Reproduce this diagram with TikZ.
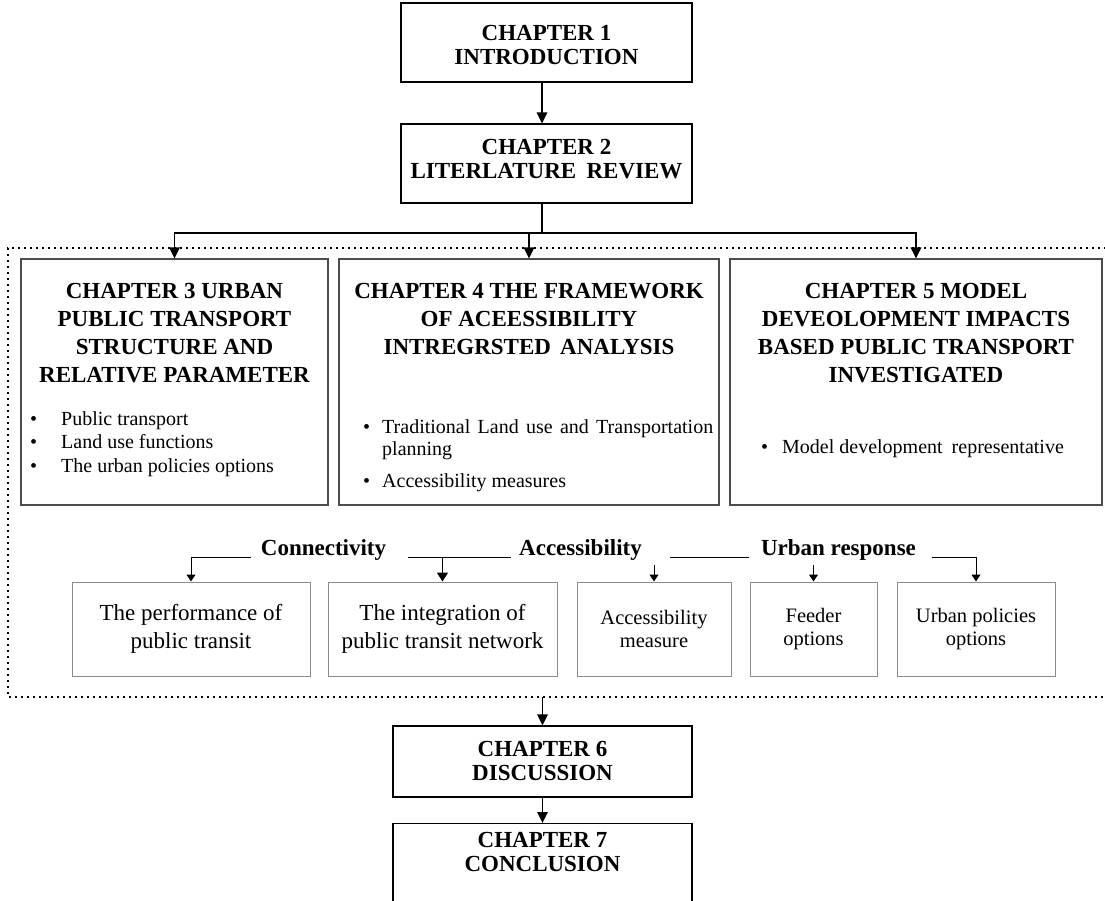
\documentclass[tikz,border=0pt]{standalone}
\usepackage{fontspec}
\setmainfont{Liberation Serif}
\usetikzlibrary{arrows.meta}
\begin{document}
\begin{tikzpicture}[x=1pt,y=-1pt,
  chapbox/.style={draw=black,line width=1.1pt,inner sep=0pt},
  bigbox/.style={draw=black!70,line width=1.1pt,inner sep=0pt},
  subbox/.style={draw=black!45,line width=1pt,inner sep=0pt,align=center},
  chaptitle/.style={inner sep=0pt,align=center,anchor=north,font=\bfseries\fontsize{23}{28}\selectfont},
  shorttitle/.style={chaptitle,font=\bfseries\fontsize{23}{24}\selectfont},
  bitem/.style={inner sep=0pt,anchor=base west,font=\fontsize{20}{24}\selectfont},
  tag/.style={inner sep=0pt,anchor=base,font=\bfseries\fontsize{23}{28}\selectfont},
  arr/.style={line width=1.5pt,-{Triangle[length=11pt,width=10.5pt]}},
  marr/.style={line width=1.6pt,-{Triangle[length=9pt,width=11pt]}},
  sarr/.style={line width=1pt,-{Triangle[length=7pt,width=9pt]}},
  plainline/.style={line width=1pt},
  dotframe/.style={line width=2.4pt,dash pattern=on 2.4pt off 3.6pt}
]
\useasboundingbox (0,0) rectangle (1105,900);
\fill[white] (0,0) rectangle (1105,900);

% chapters 1 and 2
\node[chapbox,minimum width=291pt,minimum height=79pt] (c1) at (546.5,42.5) {};
\node[shorttitle] (c1t) at (546.5,25) {CHAPTER 1\\INTRODUCTION};
\node[chapbox,minimum width=291pt,minimum height=79pt] (c2) at (546.5,163.5) {};
\node[shorttitle] (c2t) at (546.5,139) {CHAPTER 2\\LITERLATURE\hspace{0.45em}REVIEW};

% dotted frame around chapters 3--5 and their themes
\draw[dotframe] (1112,248) -- (8,248) -- (8,697) -- (1112,697);

% chapters 3, 4 and 5
\node[bigbox,minimum width=307pt,minimum height=246pt] (b3) at (174.5,382) {};
\node[bigbox,minimum width=380pt,minimum height=246pt] (b4) at (529,382) {};
\node[bigbox,minimum width=372pt,minimum height=246pt] (b5) at (916,382) {};

\node[chaptitle] (t3) at (174.5,283)
  {CHAPTER 3 URBAN\\PUBLIC TRANSPORT\\STRUCTURE AND\\RELATIVE PARAMETER};
\node[chaptitle] (t4) at (529,283)
  {CHAPTER 4 THE FRAMEWORK\\OF ACEESSIBILITY\\INTREGRSTED\hspace{0.4em}ANALYSIS};
\node[chaptitle] (t5) at (916,283)
  {CHAPTER 5 MODEL\\DEVEOLOPMENT IMPACTS\\BASED PUBLIC TRANSPORT\\INVESTIGATED};

\node[bitem] (p31) at (30,425) {\makebox[31pt][l]{\textbullet}Public transport};
\node[bitem] (p32) at (30,448) {\makebox[31pt][l]{\textbullet}Land use functions};
\node[bitem] (p33) at (30,472) {\makebox[31pt][l]{\textbullet}The urban policies options};

\node[bitem] (p41) at (363,433)
  {\makebox[19pt][l]{\textbullet}\makebox[331pt][s]{Traditional Land use and Transportation}};
\node[bitem] (p41b) at (382,455) {planning};
\node[bitem] (p42) at (363,487) {\makebox[19pt][l]{\textbullet}Accessibility measures};

\node[bitem] (p51) at (761,453) {\makebox[21pt][l]{\textbullet}Model development\hspace{0.45em}representative};

% theme headings
\node[tag] (conn) at (323.5,555) {Connectivity};
\node[tag] (acc) at (580.5,555) {Accessibility};
\node[tag] (urb) at (838.5,555) {Urban response};
\coordinate (rowy) at (0,557);

% theme boxes
\node[subbox,minimum width=238pt,minimum height=94pt,font=\fontsize{23}{28}\selectfont]
  (sa) at (191,629) {The performance of\\public transit};
\node[subbox,minimum width=229pt,minimum height=94pt,font=\fontsize{23}{28}\selectfont]
  (sb) at (442.5,629) {The integration of\\public transit network};
\node[subbox,minimum width=154pt,minimum height=94pt,font=\fontsize{20.5}{23}\selectfont]
  (sc) at (654,629) {Accessibility\\measure};
\node[subbox,minimum width=127pt,minimum height=94pt,font=\fontsize{20.5}{23}\selectfont]
  (sd) at (813.5,629) {Feeder\\options};
\node[subbox,minimum width=158pt,minimum height=94pt,font=\fontsize{20.5}{23}\selectfont]
  (se) at (976,629) {Urban policies\\options};

% chapters 6 and 7
\node[chapbox,minimum width=299pt,minimum height=71pt] (c6) at (542.5,761.5) {};
\node[shorttitle] (c6t) at (542.5,741) {CHAPTER 6\\DISCUSSION};
\node[chapbox,minimum width=299pt,minimum height=92pt,anchor=north] (c7) at (542.5,823) {};
\node[shorttitle] (c7t) at (542.5,832) {CHAPTER 7\\CONCLUSION};

% main flow
\draw[arr] ([xshift=-4.5pt]c1.south) -- ([xshift=-4.5pt]c2.north);
\coordinate (split) at (542,233);
\draw[line width=1.6pt] ([xshift=-4.5pt]c2.south) -- (split);
\draw[arr] (split) -| (b3.north);
\draw[arr] (split) -| (b4.north);
\draw[arr] (split) -| (b5.north);
\coordinate (fb) at (542,697);
\draw[arr] (c6.north |- fb) -- (c6.north);
\draw[arr] (c6.south) -- (c7.north);

% theme connectors
\draw[sarr] ([xshift=-10pt,yshift=-2pt]conn.base west) -| (sa.north);
\draw[plainline] ([xshift=22pt,yshift=-2pt]conn.base east) -- ([xshift=-8pt,yshift=-2pt]acc.base west);
\draw[marr] (sb.north |- rowy) -- (sb.north);
\draw[plainline] ([xshift=28pt,yshift=-2pt]acc.base east) -- ([xshift=-12pt,yshift=-2pt]urb.base west);
\draw[sarr] ([xshift=16pt,yshift=-2pt]urb.base east) -| (se.north);
\draw[sarr] ([yshift=17pt]sc.north) -- (sc.north);
\draw[sarr] ([yshift=17pt]sd.north) -- (sd.north);
\end{tikzpicture}
\end{document}
